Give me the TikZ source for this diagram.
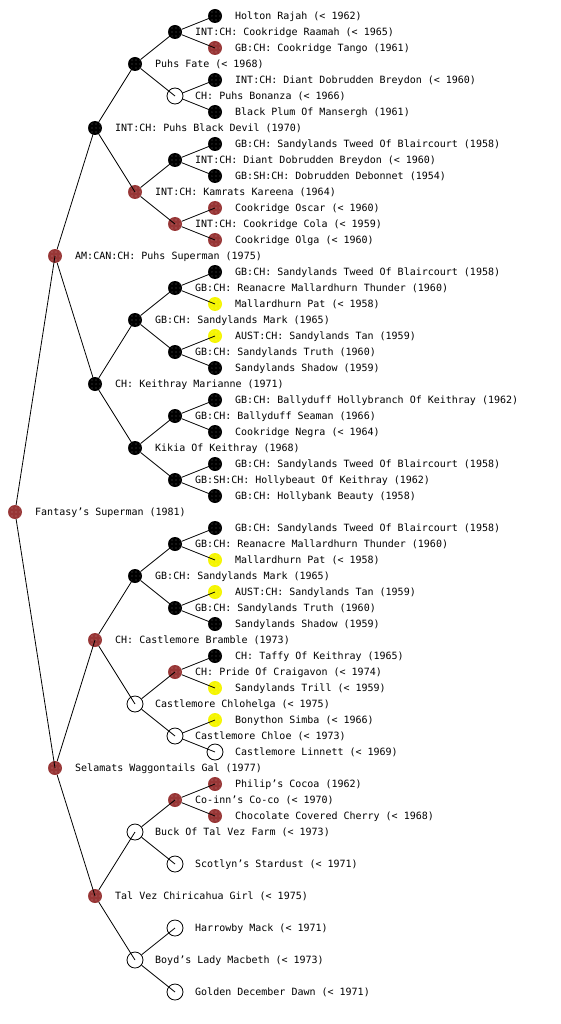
\documentclass[tikz,border=0pt]{standalone}
\usepackage{fontspec}
\newfontfamily\monof{DejaVu Sans Mono}
\usetikzlibrary{patterns}
\pgfdeclarepatternformonly{sparsedots}{\pgfqpoint{-1pt}{-1pt}}{\pgfqpoint{1pt}{1pt}}{\pgfqpoint{4pt}{4pt}}{%
  \pgfpathcircle{\pgfqpoint{0pt}{0pt}}{0.45pt}\pgfusepath{fill}}
\definecolor{pbrown}{HTML}{983636}
\definecolor{pyellow}{HTML}{F5F500}
\tikzset{
  dotfill/.style={circle, inner sep=0pt, minimum size=14pt, fill=#1,
    postaction={pattern=sparsedots, pattern color=white}},
  blk/.style={dotfill=black},
  brn/.style={dotfill=pbrown},
  yel/.style={dotfill=pyellow},
  emp/.style={circle, inner sep=0pt, minimum size=16pt, draw=black, fill=white, line width=0.8pt},
  lbl/.style={anchor=west, inner sep=0pt, text height=7.3pt, text depth=0pt,
    font=\monof\fontsize{10}{12}\selectfont},
  edge/.style={draw=black, line width=0.8pt},
}
\newcommand\pn[5]{\node[#4] (#1) at (#2,#3) {};
  \node[lbl] (#1-t) at ([xshift=20pt]#1.center) {#5};}
\begin{document}
\begin{tikzpicture}[x=1pt,y=-1pt]
\useasboundingbox[fill=white] (0,0) rectangle (560,1024);
% generation 0
\pn{r}{15}{512}{brn}{Fantasy’s Superman (1981)}
% generation 1
\pn{a}{55}{256}{brn}{AM:CAN:CH: Puhs Superman (1975)}
\pn{b}{55}{768}{brn}{Selamats Waggontails Gal (1977)}
% generation 2
\pn{aa}{95}{128}{blk}{INT:CH: Puhs Black Devil (1970)}
\pn{ab}{95}{384}{blk}{CH: Keithray Marianne (1971)}
\pn{ba}{95}{640}{brn}{CH: Castlemore Bramble (1973)}
\pn{bb}{95}{896}{brn}{Tal Vez Chiricahua Girl (< 1975)}
% generation 3
\pn{aaa}{135}{64}{blk}{Puhs Fate (< 1968)}
\pn{aab}{135}{192}{brn}{INT:CH: Kamrats Kareena (1964)}
\pn{aba}{135}{320}{blk}{GB:CH: Sandylands Mark (1965)}
\pn{abb}{135}{448}{blk}{Kikia Of Keithray (1968)}
\pn{baa}{135}{576}{blk}{GB:CH: Sandylands Mark (1965)}
\pn{bab}{135}{704}{emp}{Castlemore Chlohelga (< 1975)}
\pn{bba}{135}{832}{emp}{Buck Of Tal Vez Farm (< 1973)}
\pn{bbb}{135}{960}{emp}{Boyd’s Lady Macbeth (< 1973)}
% generation 4
\pn{aaaa}{175}{32}{blk}{INT:CH: Cookridge Raamah (< 1965)}
\pn{aaab}{175}{96}{emp}{CH: Puhs Bonanza (< 1966)}
\pn{aaba}{175}{160}{blk}{INT:CH: Diant Dobrudden Breydon (< 1960)}
\pn{aabb}{175}{224}{brn}{INT:CH: Cookridge Cola (< 1959)}
\pn{abaa}{175}{288}{blk}{GB:CH: Reanacre Mallardhurn Thunder (1960)}
\pn{abab}{175}{352}{blk}{GB:CH: Sandylands Truth (1960)}
\pn{abba}{175}{416}{blk}{GB:CH: Ballyduff Seaman (1966)}
\pn{abbb}{175}{480}{blk}{GB:SH:CH: Hollybeaut Of Keithray (1962)}
\pn{baaa}{175}{544}{blk}{GB:CH: Reanacre Mallardhurn Thunder (1960)}
\pn{baab}{175}{608}{blk}{GB:CH: Sandylands Truth (1960)}
\pn{baba}{175}{672}{brn}{CH: Pride Of Craigavon (< 1974)}
\pn{babb}{175}{736}{emp}{Castlemore Chloe (< 1973)}
\pn{bbaa}{175}{800}{brn}{Co-inn’s Co-co (< 1970)}
\pn{bbab}{175}{864}{emp}{Scotlyn’s Stardust (< 1971)}
\pn{bbba}{175}{928}{emp}{Harrowby Mack (< 1971)}
\pn{bbbb}{175}{992}{emp}{Golden December Dawn (< 1971)}
% generation 5
\pn{aaaaa}{215}{16}{blk}{Holton Rajah (< 1962)}
\pn{aaaab}{215}{48}{brn}{GB:CH: Cookridge Tango (1961)}
\pn{aaaba}{215}{80}{blk}{INT:CH: Diant Dobrudden Breydon (< 1960)}
\pn{aaabb}{215}{112}{blk}{Black Plum Of Mansergh (1961)}
\pn{aabaa}{215}{144}{blk}{GB:CH: Sandylands Tweed Of Blaircourt (1958)}
\pn{aabab}{215}{176}{blk}{GB:SH:CH: Dobrudden Debonnet (1954)}
\pn{aabba}{215}{208}{brn}{Cookridge Oscar (< 1960)}
\pn{aabbb}{215}{240}{brn}{Cookridge Olga (< 1960)}
\pn{abaaa}{215}{272}{blk}{GB:CH: Sandylands Tweed Of Blaircourt (1958)}
\pn{abaab}{215}{304}{yel}{Mallardhurn Pat (< 1958)}
\pn{ababa}{215}{336}{yel}{AUST:CH: Sandylands Tan (1959)}
\pn{ababb}{215}{368}{blk}{Sandylands Shadow (1959)}
\pn{abbaa}{215}{400}{blk}{GB:CH: Ballyduff Hollybranch Of Keithray (1962)}
\pn{abbab}{215}{432}{blk}{Cookridge Negra (< 1964)}
\pn{abbba}{215}{464}{blk}{GB:CH: Sandylands Tweed Of Blaircourt (1958)}
\pn{abbbb}{215}{496}{blk}{GB:CH: Hollybank Beauty (1958)}
\pn{baaaa}{215}{528}{blk}{GB:CH: Sandylands Tweed Of Blaircourt (1958)}
\pn{baaab}{215}{560}{yel}{Mallardhurn Pat (< 1958)}
\pn{baaba}{215}{592}{yel}{AUST:CH: Sandylands Tan (1959)}
\pn{baabb}{215}{624}{blk}{Sandylands Shadow (1959)}
\pn{babaa}{215}{656}{blk}{CH: Taffy Of Keithray (1965)}
\pn{babab}{215}{688}{yel}{Sandylands Trill (< 1959)}
\pn{babba}{215}{720}{yel}{Bonython Simba (< 1966)}
\pn{babbb}{215}{752}{emp}{Castlemore Linnett (< 1969)}
\pn{bbaaa}{215}{784}{brn}{Philip’s Cocoa (1962)}
\pn{bbaab}{215}{816}{brn}{Chocolate Covered Cherry (< 1968)}
% connectors
\foreach \p/\c in {r/a,r/b,a/aa,a/ab,b/ba,b/bb,
  aa/aaa,aa/aab,ab/aba,ab/abb,ba/baa,ba/bab,bb/bba,bb/bbb,
  aaa/aaaa,aaa/aaab,aab/aaba,aab/aabb,aba/abaa,aba/abab,abb/abba,abb/abbb,
  baa/baaa,baa/baab,bab/baba,bab/babb,bba/bbaa,bba/bbab,bbb/bbba,bbb/bbbb,
  aaaa/aaaaa,aaaa/aaaab,aaab/aaaba,aaab/aaabb,aaba/aabaa,aaba/aabab,aabb/aabba,aabb/aabbb,
  abaa/abaaa,abaa/abaab,abab/ababa,abab/ababb,abba/abbaa,abba/abbab,abbb/abbba,abbb/abbbb,
  baaa/baaaa,baaa/baaab,baab/baaba,baab/baabb,baba/babaa,baba/babab,babb/babba,babb/babbb,
  bbaa/bbaaa,bbaa/bbaab}
  \draw[edge] (\p) -- (\c.center);
\end{tikzpicture}
\end{document}
